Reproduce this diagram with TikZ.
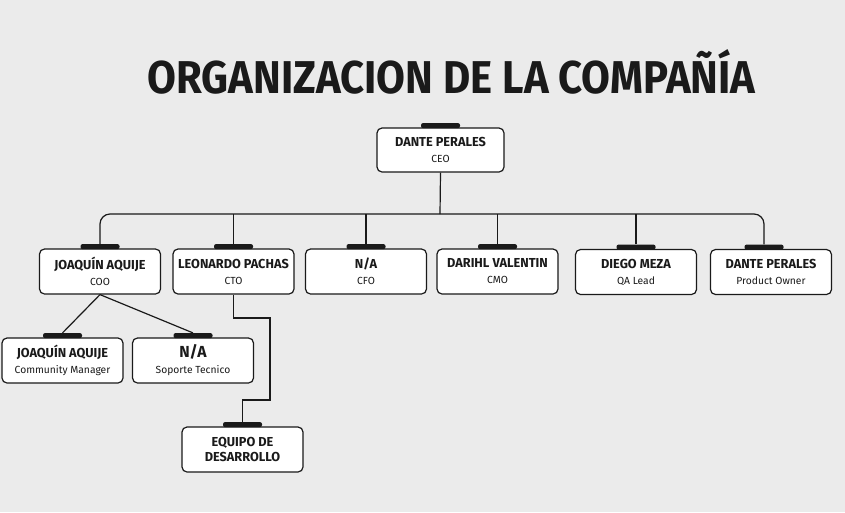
\documentclass[tikz,border=0pt]{standalone}
\usepackage{fontspec}
\setmainfont{Fira Sans}[FakeStretch=1.0]
\newfontfamily\namefont{Fira Sans}[FakeStretch=0.98]
\newfontfamily\titlefont{Fira Sans}[FakeStretch=0.91]
\definecolor{bg}{HTML}{EBEBEB}
\definecolor{ink}{HTML}{1A1A1A}
\newcommand{\cardname}[1]{{\namefont\fontsize{13}{14}\selectfont\bfseries #1}}
\tikzset{
  card/.style={draw=ink, line width=1.2pt, rounded corners=5pt, fill=white,
    minimum width=121pt, minimum height=45pt, align=center, inner sep=0pt,
    font=\fontsize{10.3}{16}\selectfont, text=ink},
  tabbar/.style={fill=ink, rounded corners=2pt, minimum width=39pt,
    minimum height=5pt, inner sep=0pt},
  link/.style={line width=1.2pt, draw=ink},
}
\begin{document}
\begin{tikzpicture}[x=1pt,y=-1pt]
\fill[bg] (0,0) rectangle (845,512);
\useasboundingbox (0,0) rectangle (845,512);

\node[text=ink, font=\titlefont\fontsize{46}{46}\bfseries] (title) at (451.5,72) {ORGANIZACION DE LA COMPAÑÍA};

\node[card, minimum width=127pt, minimum height=44pt] (ceo) at (440.5,150) {\cardname{DANTE PERALES}\\CEO};

\node[card] (coo) at (100,271.5) {\cardname{JOAQUÍN AQUIJE}\\COO};
\node[card] (cto) at (233.5,271.5) {\cardname{LEONARDO PACHAS}\\CTO};
\node[card] (cfo) at (366,271.5) {\cardname{N/A}\\CFO};
\node[card] (cmo) at (497.5,271.5) {\cardname{DARIHL VALENTIN}\\CMO};
\node[card] (qa) at (636,272) {\cardname{DIEGO MEZA}\\QA Lead};
\node[card] (po) at (771,272) {\cardname{DANTE PERALES}\\Product Owner};

\node[card] (cm) at (62.5,360.5) {\cardname{JOAQUÍN AQUIJE}\\Community Manager};
\node[card] (sop) at (193,360.5) {{\namefont\fontsize{16}{16}\selectfont\bfseries N/A}\\Soporte Tecnico};
\node[card, font=\namefont\fontsize{13}{15}\selectfont\bfseries] (dev) at (242.5,449.5) {EQUIPO DE\\DESARROLLO};

\foreach \n in {ceo,coo,cto,cfo,cmo,qa,cm,sop,dev}{
  \node[tabbar] (\n T) at ([yshift=1.8pt]\n.north) {};
}
\node[tabbar] (poT) at ([xshift=-7pt,yshift=1.8pt]po.north) {};

\coordinate (bus) at (440,214);
\coordinate (j1) at (270,318);
\coordinate (j2) at (270,400);

\draw[link] (ceo.south) -- (bus);
\draw[link, rounded corners=10pt] (cooT.north) |- (bus) -| (poT.north);
\foreach \n in {cto,cfo,cmo,qa}{
  \draw[link] (\n T.north) -- (\n T.north |- bus);
}
\draw[link] (coo.south) -- (cmT.north);
\draw[link] (coo.south) -- (sopT.north);
\draw[link] (cto.south) |- (j1) -- (j2) -| (devT.north);
\end{tikzpicture}
\end{document}
